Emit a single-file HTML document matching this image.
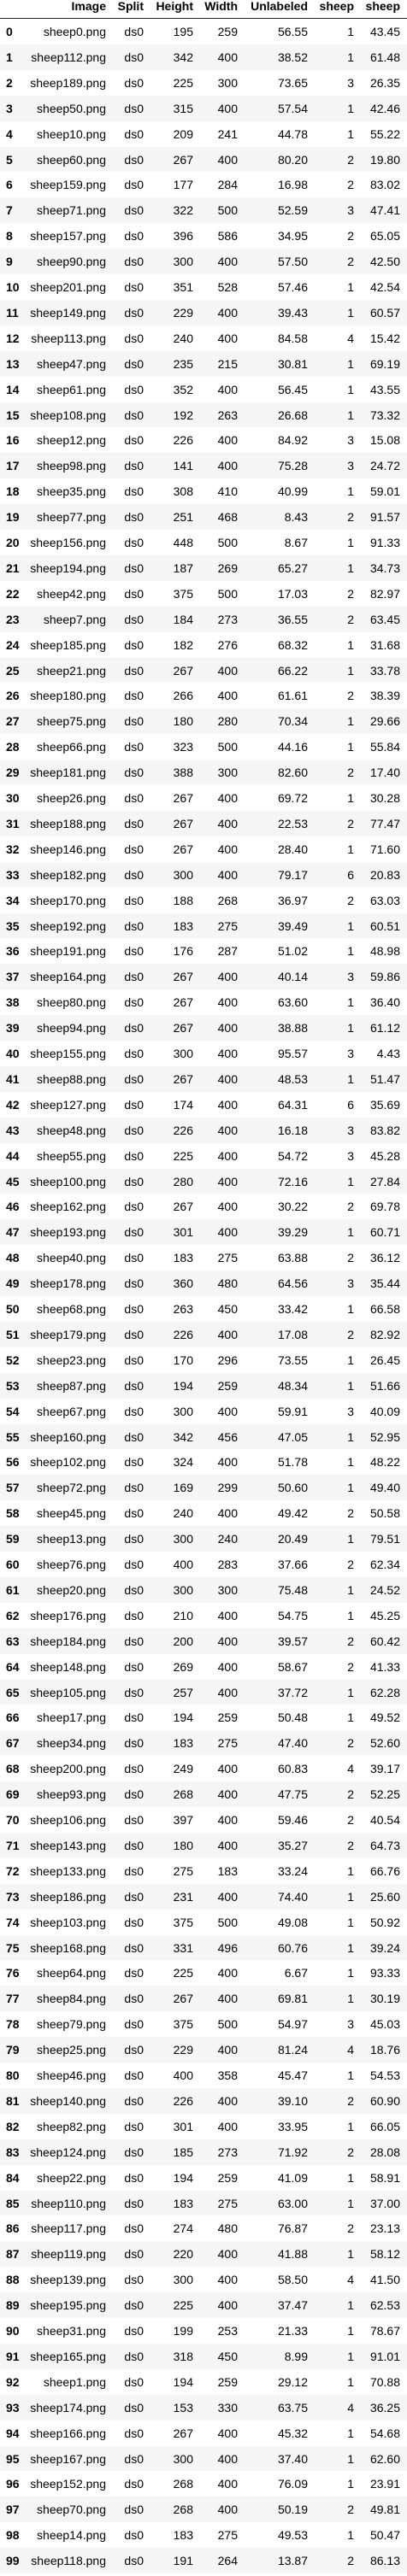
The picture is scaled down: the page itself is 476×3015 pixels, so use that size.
<!DOCTYPE html>
<html><head><meta charset="utf-8"><style>
body{margin:0;width:476px;height:3015px;background:#fff;font-family:"Liberation Sans",Arial,sans-serif;font-size:14px;color:#000;position:relative;overflow:hidden}
.c{position:absolute;white-space:nowrap;line-height:16px}
.r{position:absolute;left:0;width:476px;height:29.9px}
.h{font-weight:bold}
</style></head><body>
<div id="tbl"></div>
<script>
const idx=[...Array(100).keys()];
const images=["sheep0","sheep112","sheep189","sheep50","sheep10","sheep60","sheep159","sheep71","sheep157","sheep90","sheep201","sheep149","sheep113","sheep47","sheep61","sheep108","sheep12","sheep98","sheep35","sheep77","sheep156","sheep194","sheep42","sheep7","sheep185","sheep21","sheep180","sheep75","sheep66","sheep181","sheep26","sheep188","sheep146","sheep182","sheep170","sheep192","sheep191","sheep164","sheep80","sheep94","sheep155","sheep88","sheep127","sheep48","sheep55","sheep100","sheep162","sheep193","sheep40","sheep178","sheep68","sheep179","sheep23","sheep87","sheep67","sheep160","sheep102","sheep72","sheep45","sheep13","sheep76","sheep20","sheep176","sheep184","sheep148","sheep105","sheep17","sheep34","sheep200","sheep93","sheep106","sheep143","sheep133","sheep186","sheep103","sheep168","sheep64","sheep84","sheep79","sheep25","sheep46","sheep140","sheep82","sheep124","sheep22","sheep110","sheep117","sheep119","sheep139","sheep195","sheep31","sheep165","sheep1","sheep174","sheep166","sheep167","sheep152","sheep70","sheep14","sheep118"];
const heights=[195,342,225,315,209,267,177,322,396,300,351,229,240,235,352,192,226,141,308,251,448,187,375,184,182,267,266,180,323,388,267,267,267,300,188,183,176,267,267,267,300,267,174,226,225,280,267,301,183,360,263,226,170,194,300,342,324,169,240,300,400,300,210,200,269,257,194,183,249,268,397,180,275,231,375,331,225,267,375,229,400,226,301,185,194,183,274,220,300,225,199,318,194,153,267,300,268,268,183,191];
const widths=[259,400,300,400,241,400,284,500,586,400,528,400,400,215,400,263,400,400,410,468,500,269,500,273,276,400,400,280,500,300,400,400,400,400,268,275,287,400,400,400,400,400,400,400,400,400,400,400,275,480,450,400,296,259,400,456,400,299,400,240,283,300,400,400,400,400,259,275,400,400,400,400,183,400,500,496,400,400,500,400,358,400,400,273,259,275,480,400,400,400,253,450,259,330,400,400,400,400,275,264];
const unlabeled=[56.55,38.52,73.65,57.54,44.78,80.20,16.98,52.59,34.95,57.50,57.46,39.43,84.58,30.81,56.45,26.68,84.92,75.28,40.99,8.43,8.67,65.27,17.03,36.55,68.32,66.22,61.61,70.34,44.16,82.60,69.72,22.53,28.40,79.17,36.97,39.49,51.02,40.14,63.60,38.88,95.57,48.53,64.31,16.18,54.72,72.16,30.22,39.29,63.88,64.56,33.42,17.08,73.55,48.34,59.91,47.05,51.78,50.60,49.42,20.49,37.66,75.48,54.75,39.57,58.67,37.72,50.48,47.40,60.83,47.75,59.46,35.27,33.24,74.40,49.08,60.76,6.67,69.81,54.97,81.24,45.47,39.10,33.95,71.92,41.09,63.00,76.87,41.88,58.50,37.47,21.33,8.99,29.12,63.75,45.32,37.40,76.09,50.19,49.53,13.87];
const sheepCount=[1,1,3,1,1,2,2,3,2,2,1,1,4,1,1,1,3,3,1,2,1,1,2,2,1,1,2,1,1,2,1,2,1,6,2,1,1,3,1,1,3,1,6,3,3,1,2,1,2,3,1,2,1,1,3,1,1,1,2,1,2,1,1,2,2,1,1,2,4,2,2,2,1,1,1,1,1,1,3,4,1,2,1,2,1,1,2,1,4,1,1,1,1,4,1,1,1,2,1,2];
const sheepPct=[43.45,61.48,26.35,42.46,55.22,19.80,83.02,47.41,65.05,42.50,42.54,60.57,15.42,69.19,43.55,73.32,15.08,24.72,59.01,91.57,91.33,34.73,82.97,63.45,31.68,33.78,38.39,29.66,55.84,17.40,30.28,77.47,71.60,20.83,63.03,60.51,48.98,59.86,36.40,61.12,4.43,51.47,35.69,83.82,45.28,27.84,69.78,60.71,36.12,35.44,66.58,82.92,26.45,51.66,40.09,52.95,48.22,49.40,50.58,79.51,62.34,24.52,45.25,60.42,41.33,62.28,49.52,52.60,39.17,52.25,40.54,64.73,66.76,25.60,50.92,39.24,93.33,30.19,45.03,18.76,54.53,60.90,66.05,28.08,58.91,37.00,23.13,58.12,41.50,62.53,78.67,91.01,70.88,36.25,54.68,62.60,23.91,49.81,50.47,86.13];
const headers=["Image","Split","Height","Width","Unlabeled","sheep","sheep"];
const rights=[124,168,226,278,360,414,468];
const colNames=["image","split","height","width","unlabeled","sheep-count","sheep-percent"];
const tbl=document.getElementById('tbl');
function cell(parent,txt,right,top,bold,name){
  const d=document.createElement('div');d.className='c'+(bold?' h':'');
  d.textContent=txt;d.style.right=(476-right)+'px';d.style.top=top+'px';
  
  
  parent.appendChild(d);return d;}
headers.forEach((h,j)=>{cell(tbl,h,rights[j],-1,true,colNames[j]+'-header');});
const line=document.createElement('div');
line.style.cssText='position:absolute;left:0;top:20.5px;width:476px;height:1px;background:#222';


tbl.appendChild(line);
idx.forEach(i=>{
  const r=document.createElement('div');r.className='r';
  r.style.top=(22+i*29.9)+'px';r.style.background=i%2?'#f5f5f5':'#fff';
  
  
  tbl.appendChild(r);
  const ix=document.createElement('div');ix.className='c h';ix.textContent=i;ix.style.left='7px';ix.style.top='7px';
  
  
  r.appendChild(ix);
  const vals=[images[i]+'.png','ds0',heights[i],widths[i],unlabeled[i].toFixed(2),sheepCount[i],sheepPct[i].toFixed(2)];
  vals.forEach((v,j)=>cell(r,String(v),rights[j],7,false,colNames[j]+'-cell'));
});
</script>
</body></html>
